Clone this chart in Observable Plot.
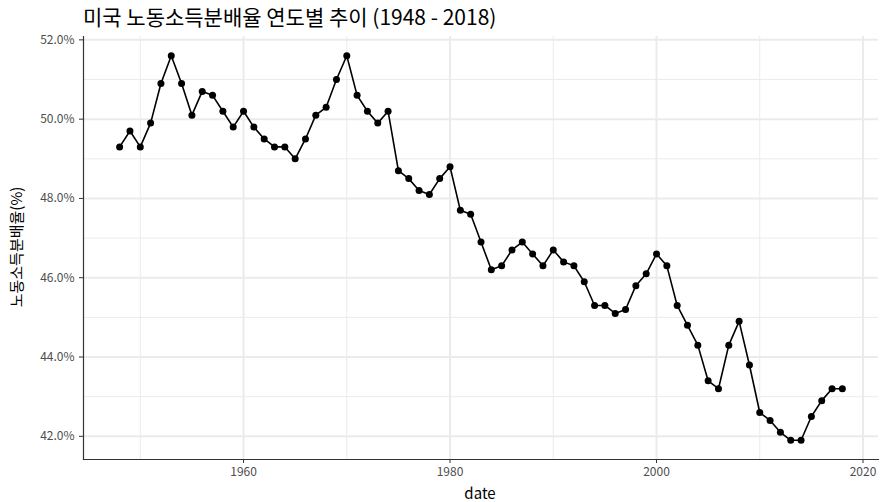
<!DOCTYPE html>
<html><head><meta charset="utf-8">
<script src="https://cdn.jsdelivr.net/npm/d3@7"></script>
<script src="https://cdn.jsdelivr.net/npm/@observablehq/plot@0.6"></script>
<style>
body{margin:0;background:#fff}
#chart{position:relative;width:880px;height:502px;overflow:hidden;background:#fff}
</style>
</head><body><div id="chart"></div>
<script>
const titleText = "미국 노동소득분배율 연도별 추이 (1948 - 2018)";
const yLabel = "노동소득분배율(%)";
const xLabel = "date";
const years = [1948,1949,1950,1951,1952,1953,1954,1955,1956,1957,1958,1959,
  1960,1961,1962,1963,1964,1965,1966,1967,1968,1969,
  1970,1971,1972,1973,1974,1975,1976,1977,1978,1979,
  1980,1981,1982,1983,1984,1985,1986,1987,1988,1989,
  1990,1991,1992,1993,1994,1995,1996,1997,1998,1999,
  2000,2001,2002,2003,2004,2005,2006,2007,2008,2009,
  2010,2011,2012,2013,2014,2015,2016,2017,2018];
const shares = [49.3,49.7,49.3,49.9,50.9,51.6,50.9,50.1,50.7,50.6,50.2,49.8,
  50.2,49.8,49.5,49.3,49.3,49.0,49.5,50.1,50.3,51.0,
  51.6,50.6,50.2,49.9,50.2,48.7,48.5,48.2,48.1,48.5,
  48.8,47.7,47.6,46.9,46.2,46.3,46.7,46.9,46.6,46.3,
  46.7,46.4,46.3,45.9,45.3,45.3,45.1,45.2,45.8,46.1,
  46.6,46.3,45.3,44.8,44.3,43.4,43.2,44.3,44.9,43.8,
  42.6,42.4,42.1,41.9,41.9,42.5,42.9,43.2,43.2];
const xMajor = [1960,1980,2000,2020];
const xMinor = [1950,1970,1990,2010];
const yMajor = [42,44,46,48,50,52];
const yMinor = [43,45,47,49,51];

const data = years.map((y,i)=>({year:y, share:shares[i]}));
const FONT = "'Noto Sans CJK KR', 'Noto Sans', sans-serif";

const plot = Plot.plot({
  width: 880, height: 502,
  marginTop: 36, marginBottom: 43, marginLeft: 83, marginRight: 2,
  style: {fontFamily: FONT, background: "#fff", overflow: "visible"},
  x: {domain: [1944.5, 2021.5], label: null},
  y: {domain: [41.415, 52.085], label: null},
  marks: [
    Plot.ruleX(xMinor, {stroke: "#ebebeb", strokeWidth: 1}),
    Plot.ruleY(yMinor, {stroke: "#ebebeb", strokeWidth: 1}),
    Plot.ruleX(xMajor, {stroke: "#ebebeb", strokeWidth: 2}),
    Plot.ruleY(yMajor, {stroke: "#ebebeb", strokeWidth: 2}),
    Plot.axisX({ticks: xMajor, tickFormat: d => String(d), tickSize: 4, tickPadding: 4, stroke: "#333", fill: "#4d4d4d", fontSize: 12, label: null}),
    Plot.axisY({ticks: yMajor, tickFormat: d => d.toFixed(1) + "%", tickSize: 4, tickPadding: 5, stroke: "#333", fill: "#4d4d4d", fontSize: 12, label: null}),
    Plot.frame({anchor: "left", stroke: "#333", strokeWidth: 1.2}),
    Plot.frame({anchor: "bottom", stroke: "#333", strokeWidth: 1.2}),
    Plot.line(data, {x: "year", y: "share", stroke: "#000", strokeWidth: 1.6}),
    Plot.dot(data, {x: "year", y: "share", fill: "#000", r: 3.5, stroke: "none"})
  ]
});
document.getElementById("chart").appendChild(plot);

const svg = d3.select(plot);
svg.append("text").attr("x", 83).attr("y", 25).attr("text-anchor", "start")
  .attr("font-family", FONT).attr("font-size", 21).attr("fill", "#000")
  .text(titleText);
svg.append("text").attr("transform", "translate(15,247) rotate(-90)")
  .attr("text-anchor", "middle").attr("dominant-baseline", "central")
  .attr("font-family", FONT).attr("font-size", 15).attr("fill", "#000")
  .text(yLabel);
svg.append("text").attr("x", 480).attr("y", 499)
  .attr("text-anchor", "middle").attr("font-family", FONT).attr("font-size", 15).attr("fill", "#000")
  .text(xLabel);
</script>
</body></html>
